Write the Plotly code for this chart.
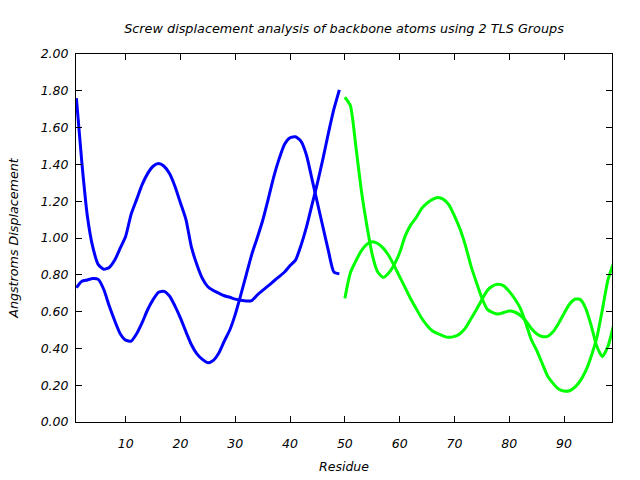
import plotly.graph_objects as go

# Group 1 residues (blue) and Group 2 residues (green)
res_g1 = list(range(1, 50))
res_g2 = list(range(50, 100))

g1_a = [1.76, 1.41, 1.12, 0.95, 0.855, 0.83, 0.84, 0.88, 0.945, 1.01,
        1.13, 1.21, 1.29, 1.35, 1.39, 1.405, 1.39, 1.35, 1.28, 1.19,
        1.10, 0.95, 0.855, 0.78, 0.735, 0.715, 0.70, 0.686, 0.678, 0.668,
        0.662, 0.658, 0.66, 0.69, 0.715, 0.74, 0.765, 0.79, 0.815, 0.85,
        0.88, 0.96, 1.06, 1.18, 1.30, 1.43, 1.57, 1.70, 1.805]
g1_b = [0.73, 0.765, 0.772, 0.78, 0.775, 0.72, 0.63, 0.55, 0.48, 0.445,
        0.44, 0.48, 0.54, 0.61, 0.665, 0.705, 0.71, 0.685, 0.63, 0.565,
        0.49, 0.42, 0.37, 0.34, 0.322, 0.335, 0.375, 0.44, 0.50, 0.585,
        0.69, 0.80, 0.91, 1.00, 1.095, 1.21, 1.33, 1.43, 1.51, 1.545,
        1.55, 1.525, 1.45, 1.32, 1.19, 1.06, 0.93, 0.815, 0.805]
g2_a = [1.765, 1.72, 1.50, 1.26, 1.07, 0.91, 0.815, 0.786, 0.81, 0.855,
        0.92, 1.01, 1.07, 1.11, 1.16, 1.19, 1.21, 1.22, 1.21, 1.18,
        1.12, 1.05, 0.96, 0.85, 0.76, 0.675, 0.612, 0.595, 0.587, 0.595,
        0.603, 0.598, 0.58, 0.55, 0.51, 0.48, 0.465, 0.465, 0.49, 0.535,
        0.59, 0.64, 0.667, 0.665, 0.615, 0.52, 0.41, 0.355, 0.41, 0.52]
g2_b = [0.672, 0.81, 0.875, 0.93, 0.965, 0.98, 0.97, 0.945, 0.905, 0.85,
        0.79, 0.73, 0.67, 0.617, 0.565, 0.525, 0.495, 0.48, 0.467, 0.46,
        0.465, 0.48, 0.51, 0.56, 0.61, 0.665, 0.715, 0.74, 0.748, 0.74,
        0.71, 0.67, 0.62, 0.54, 0.45, 0.39, 0.32, 0.25, 0.21, 0.18,
        0.168, 0.17, 0.19, 0.225, 0.28, 0.36, 0.46, 0.61, 0.77, 0.86]

yticks = [0.0, 0.2, 0.4, 0.6, 0.8, 1.0, 1.2, 1.4, 1.6, 1.8, 2.0]
xticks = [10, 20, 30, 40, 50, 60, 70, 80, 90]

BLUE = "#0000ff"
GREEN = "#00ff00"
FONT = "DejaVu Sans"

fig = go.Figure()
for x, y, c in [(res_g1, g1_a, BLUE), (res_g1, g1_b, BLUE),
                (res_g2, g2_a, GREEN), (res_g2, g2_b, GREEN)]:
    fig.add_trace(go.Scatter(x=x, y=y, mode="lines",
                             line=dict(color=c, width=3, shape="spline", smoothing=0.6),
                             showlegend=False, hoverinfo="skip"))

axis_common = dict(showline=True, linecolor="black", linewidth=1, mirror="allticks",
                   ticks="inside", ticklen=6, tickcolor="black", showgrid=False,
                   zeroline=False, automargin=False,
                   tickfont=dict(family=FONT, size=12.5, color="black", style="italic"))

fig.update_xaxes(range=[0.93, 98.76], tickvals=xticks, ticktext=[str(v) for v in xticks],
                 ticklabelstandoff=10,
                 title=dict(text="Residue", font=dict(family=FONT, size=12.5, style="italic", color="black"),
                            standoff=12),
                 **axis_common)
fig.update_yaxes(range=[0, 2.0], tickvals=yticks, ticktext=[f"{v:.2f}" for v in yticks],
                 ticklabelstandoff=4,
                 title=dict(text="Angstroms Displacement", font=dict(family=FONT, size=12.7, style="italic", color="black"),
                            standoff=19),
                 **axis_common)

fig.update_layout(
    width=640, height=480,
    margin=dict(l=76, r=28, t=54, b=58),
    paper_bgcolor="white", plot_bgcolor="white",
    title=dict(text="Screw displacement analysis of backbone atoms using 2 TLS Groups",
               font=dict(family=FONT, size=12.8, style="italic", color="black"),
               x=0.5375, xanchor="center", y=0.940, yanchor="middle"),
)

fig.write_html("out.html")
